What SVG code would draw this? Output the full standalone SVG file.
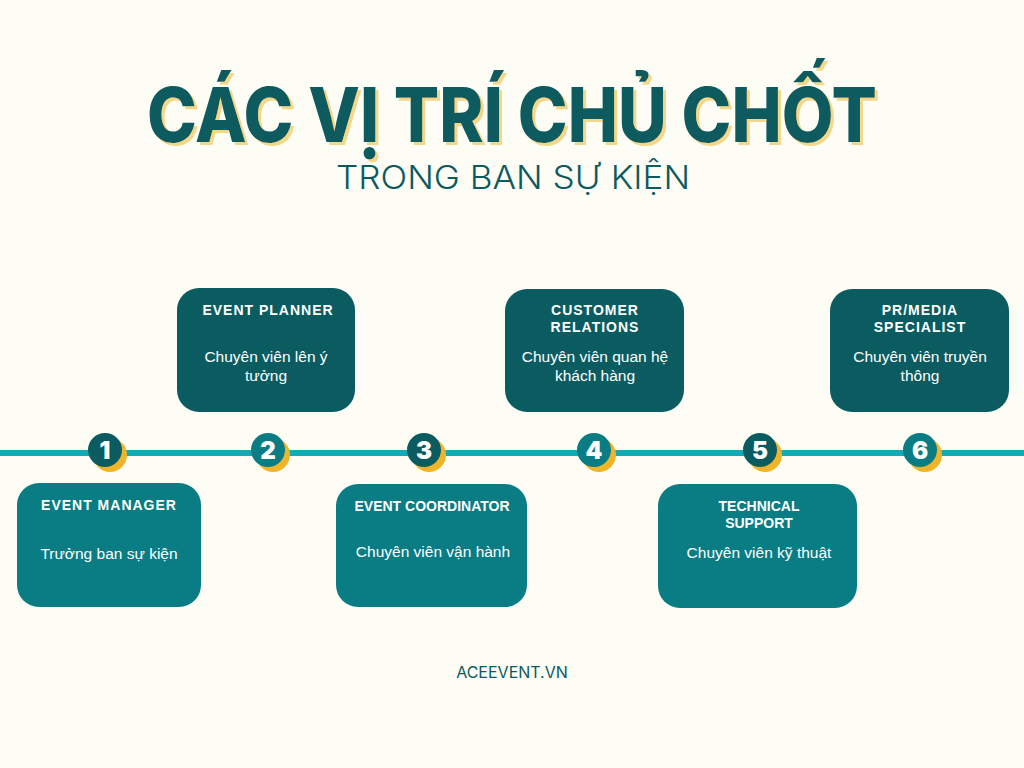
<svg xmlns="http://www.w3.org/2000/svg" width="1024" height="768" viewBox="0 0 1024 768">
<defs>
<filter id="ysh" x="-5%" y="-20%" width="110%" height="140%">
<feDropShadow dx="3" dy="3" stdDeviation="0" flood-color="#f3d88a" flood-opacity="1"/>
</filter>
</defs>
<style>
.title{font-family:Inter,"Open Sans","Liberation Sans",sans-serif;font-weight:800;font-size:76px;text-anchor:middle}
.sub{font-family:Inter,"Open Sans","Liberation Sans",sans-serif;font-weight:300;font-size:32px;fill:#0b5a5f;text-anchor:middle}
.dark{fill:#0b5c60}
.light{fill:#0a7c83}
.bt{font-family:"Liberation Sans",Arial,sans-serif;font-weight:bold;font-size:14px;fill:#ffffff;text-anchor:middle}
.sp{letter-spacing:1px}
.ds{font-family:"Liberation Sans",Arial,sans-serif;font-size:15.5px;fill:#ffffff;text-anchor:middle}
.num{font-family:Inter,"Open Sans","Liberation Sans",sans-serif;font-weight:900;font-size:24px;fill:#ffffff;text-anchor:middle}
.moon{fill:#f0b429}
.foot{font-family:Inter,"Open Sans","Liberation Sans",sans-serif;font-size:16px;fill:#0b5a5f;text-anchor:middle}
</style>
<rect width="1024" height="768" fill="#fdfdf5"/>
<g id="title">
<text class="title" x="512" y="142" fill="#0b5a5f" filter="url(#ysh)" textLength="730" lengthAdjust="spacingAndGlyphs">CÁC VỊ TRÍ CHỦ CHỐT</text>
<text class="sub" x="513" y="189" textLength="354" lengthAdjust="spacingAndGlyphs">TRONG BAN SỰ KIỆN</text>
</g>
<g id="connectors">
<rect x="0" y="450" width="1024" height="6" fill="#12aab5"/>
</g>
<g id="m1"><circle class="moon" cx="110" cy="455" r="17"/><circle class="dark" cx="105" cy="450" r="17"/><text class="num" x="105" y="459">1</text></g>
<g id="m2"><circle class="moon" cx="273" cy="455" r="17"/><circle class="light" cx="268" cy="450" r="17"/><text class="num" x="268" y="459">2</text></g>
<g id="m3"><circle class="moon" cx="429" cy="455" r="17"/><circle class="dark" cx="424" cy="450" r="17"/><text class="num" x="424" y="459">3</text></g>
<g id="m4"><circle class="moon" cx="599" cy="455" r="17"/><circle class="light" cx="594" cy="450" r="17"/><text class="num" x="594" y="459">4</text></g>
<g id="m5"><circle class="moon" cx="765" cy="455" r="17"/><circle class="dark" cx="760" cy="450" r="17"/><text class="num" x="760" y="459">5</text></g>
<g id="m6"><circle class="moon" cx="925" cy="455" r="17"/><circle class="light" cx="920" cy="450" r="17"/><text class="num" x="920" y="459">6</text></g>
<g id="n1">
<rect class="light" x="17" y="483" width="184" height="124" rx="22"/>
<text class="bt sp" x="109" y="510">EVENT MANAGER</text>
<text class="ds" x="109" y="559">Trưởng ban sự kiện</text>
</g>
<g id="n2">
<rect class="dark" x="177" y="288" width="178" height="124" rx="22"/>
<text class="bt sp" x="268" y="315">EVENT PLANNER</text>
<text class="ds" x="266" y="362">Chuyên viên lên ý</text>
<text class="ds" x="266" y="381">tưởng</text>
</g>
<g id="n3">
<rect class="light" x="336" y="484" width="191" height="123" rx="22"/>
<text class="bt" x="432" y="511">EVENT COORDINATOR</text>
<text class="ds" x="433" y="557">Chuyên viên vận hành</text>
</g>
<g id="n4">
<rect class="dark" x="505" y="289" width="179" height="123" rx="22"/>
<text class="bt sp" x="595" y="315">CUSTOMER</text>
<text class="bt sp" x="595" y="332">RELATIONS</text>
<text class="ds" x="595" y="362">Chuyên viên quan hệ</text>
<text class="ds" x="595" y="381">khách hàng</text>
</g>
<g id="n5">
<rect class="light" x="658" y="484" width="199" height="124" rx="22"/>
<text class="bt" x="759" y="511">TECHNICAL</text>
<text class="bt" x="759" y="528">SUPPORT</text>
<text class="ds" x="759" y="558">Chuyên viên kỹ thuật</text>
</g>
<g id="n6">
<rect class="dark" x="830" y="289" width="179" height="123" rx="22"/>
<text class="bt sp" x="920" y="315">PR/MEDIA</text>
<text class="bt sp" x="920" y="332">SPECIALIST</text>
<text class="ds" x="920" y="362">Chuyên viên truyền</text>
<text class="ds" x="920" y="381">thông</text>
</g>
<text class="foot" x="512" y="678">ACEEVENT.VN</text>
</svg>
